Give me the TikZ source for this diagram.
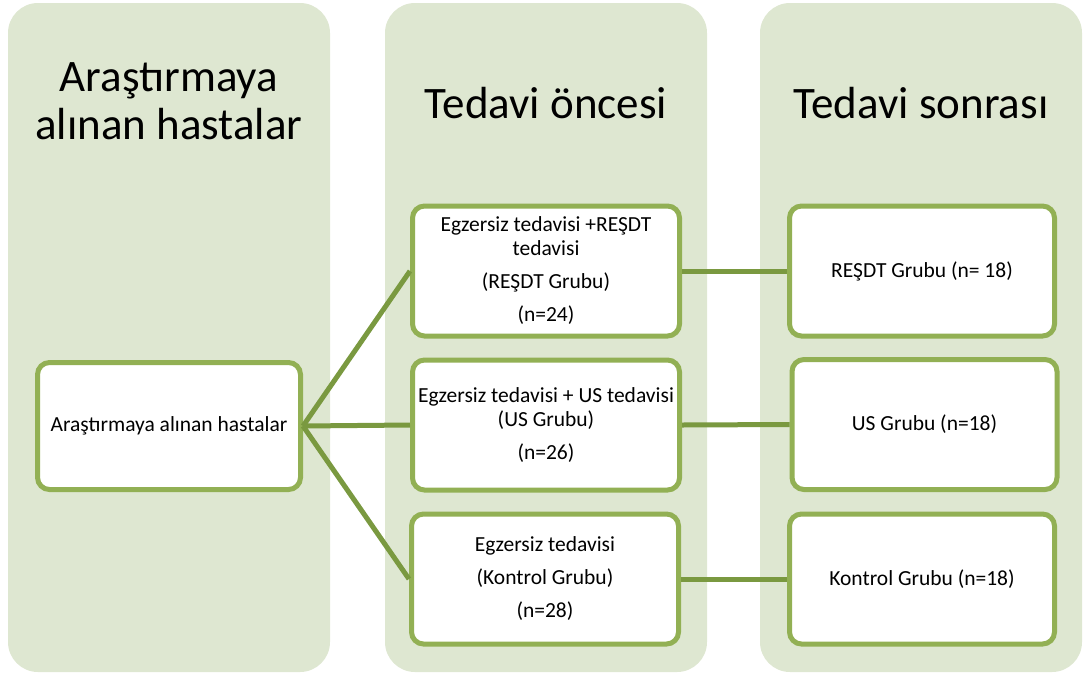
\documentclass[tikz,border=0pt]{standalone}
\usepackage{fontspec}
\setmainfont{Carlito}
\usepackage{tikz}
\usetikzlibrary{positioning}
\definecolor{colbg}{RGB}{222,231,209}
\definecolor{boxgreen}{RGB}{146,176,84}
\definecolor{linkgreen}{RGB}{122,153,64}
\tikzset{
  column/.style={fill=colbg, rounded corners=30pt, minimum width=322pt, minimum height=669pt, inner sep=0pt},
  title/.style={align=center, font=\fontsize{45}{48}\selectfont},
  box/.style={draw=boxgreen, line width=5pt, rounded corners=12pt, fill=white, minimum width=267pt, minimum height=130pt, align=center, inner sep=2pt, font=\fontsize{21.5}{24}\selectfont},
  link/.style={draw=linkgreen, line width=5pt}
}
\begin{document}
\begin{tikzpicture}[x=1pt,y=-1pt]
\useasboundingbox (0,0) rectangle (1083,675);
\node[column] (col1) at (169,337.5) {};
\node[column] (col2) at (546,337.5) {};
\node[column] (col3) at (921,337.5) {};
\node[title] (t1) at (169,101) {Araştırmaya\\alınan hastalar};
\node[title] (t2) at (546,103) {Tedavi öncesi};
\node[title] (t3) at (921,103) {Tedavi sonrası};
\node[box, minimum width=263pt, minimum height=127pt] (src) at (169,426) {Araştırmaya alınan hastalar};
\node[box] (b1) at (546,271) {Egzersiz tedavisi +REŞDT\\tedavisi\\[9pt](REŞDT Grubu)\\[9pt](n=24)};
\node[box] (b2) at (546,425) {Egzersiz tedavisi + US tedavisi\\(US Grubu)\\[9pt](n=26)};
\node[box] (b3) at (545,579) {Egzersiz tedavisi\\[9pt](Kontrol Grubu)\\[9pt](n=28)};
\node[box, minimum width=265pt] (c1) at (922,271) {REŞDT Grubu (n= 18)};
\node[box, minimum width=265pt] (c2) at (924.5,424.5) {US Grubu (n=18)};
\node[box, minimum width=265pt] (c3) at (922,579) {Kontrol Grubu (n=18)};
\draw[link] (src.east) -- (b1.west);
\draw[link] (src.east) -- (b2.west);
\draw[link] (src.east) -- (b3.west);
\draw[link] (b1.east) -- (c1.west);
\draw[link] (b2.east) -- (c2.west);
\draw[link] (b3.east) -- (c3.west);
\end{tikzpicture}
\end{document}
